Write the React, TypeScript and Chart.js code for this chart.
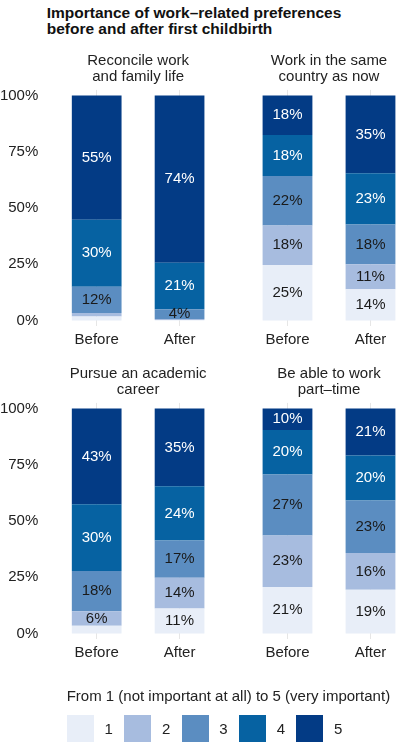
import { useEffect, useRef } from "react";
import { Chart, registerables } from "chart.js";

Chart.register(...registerables);

const FONT = "'Liberation Sans', Arial, sans-serif";
Chart.defaults.font.family = FONT;

// data, share of answers per importance level (1..5), in %
const categories = ["Before", "After"];
const levels = ["1", "2", "3", "4", "5"];
const yTicks = [0, 25, 50, 75, 100];

const reconcileTitle = ["Reconcile work", "and family life"];
const reconcileBefore = [1.7, 1.6, 11.6, 29.9, 55.2];
const reconcileAfter = [0.2, 0.4, 4.4, 20.6, 74.4];

const countryTitle = ["Work in the same", "country as now"];
const countryBefore = [24.6, 17.6, 22.0, 18.2, 17.6];
const countryAfter = [13.8, 11.2, 17.6, 22.8, 34.6];

const academicTitle = ["Pursue an academic", "career"];
const academicBefore = [3.4, 6.4, 17.9, 29.7, 42.6];
const academicAfter = [11.1, 13.6, 16.6, 24.1, 34.6];

const partTimeTitle = ["Be able to work", "part–time"];
const partTimeBefore = [20.6, 22.9, 27.2, 19.7, 9.6];
const partTimeAfter = [19.4, 16.3, 23.4, 20.0, 20.9];

const levelColors = ["#e8eef8", "#a7bcdf", "#5b8dc1", "#0662a2", "#033b85"];
const labelColors = ["#1a1a1a", "#1a1a1a", "#1a1a1a", "#ffffff", "#ffffff"];
const TEXT = "#222222";

// draws the rounded % inside each segment
const barLabels = {
  id: "barLabels",
  afterDatasetsDraw(chart: Chart) {
    const { ctx } = chart;
    ctx.save();
    ctx.font = `15px ${FONT}`;
    ctx.textAlign = "center";
    ctx.textBaseline = "middle";
    chart.data.datasets.forEach((ds, di) => {
      const meta = chart.getDatasetMeta(di);
      meta.data.forEach((bar, i) => {
        const v = Number(ds.data[i]);
        if (v < 3.5) return;
        const { x, y, base } = bar.getProps(["x", "y", "base"], true) as any;
        ctx.fillStyle = labelColors[di];
        ctx.fillText(`${Math.round(v)}%`, x, (y + base) / 2);
      });
    });
    ctx.restore();
  },
};

interface PanelProps {
  title: string[];
  before: number[];
  after: number[];
  showY: boolean;
  left: number;
  top: number;
  width: number;
}

function Panel({ title, before, after, showY, left, top, width }: PanelProps) {
  const ref = useRef<HTMLCanvasElement>(null);

  useEffect(() => {
    if (!ref.current) return;
    const chart = new Chart(ref.current, {
      type: "bar",
      data: {
        labels: categories,
        datasets: levels.map((lvl, li) => ({
          label: lvl,
          data: [before[li], after[li]],
          backgroundColor: levelColors[li],
          borderWidth: 0,
          barPercentage: 0.6,
          categoryPercentage: 1,
        })),
      },
      options: {
        responsive: true,
        maintainAspectRatio: false,
        animation: false,
        events: [],
        layout: { padding: 0 },
        plugins: {
          legend: { display: false },
          tooltip: { enabled: false },
          title: {
            display: true,
            text: title,
            fullSize: false,
            color: TEXT,
            font: { size: 15, weight: "normal", lineHeight: 1.05 },
            padding: { top: 13.3, bottom: 5.1 },
          },
        },
        scales: {
          x: {
            stacked: true,
            offset: true,
            grid: { offset: false, color: "#e6e6e6", lineWidth: 1, drawTicks: false },
            border: { display: false },
            ticks: { color: TEXT, font: { size: 15, lineHeight: 1.2 }, padding: 5 },
          },
          y: {
            stacked: true,
            display: showY,
            min: -2.5,
            max: 102.5,
            grid: { display: false, drawTicks: false },
            border: { display: false },
            ticks: {
              color: TEXT,
              font: { size: 15 },
              padding: 17,
              callback: (v: string | number) => `${v}%`,
            },
            afterBuildTicks: (s: any) => {
              s.ticks = yTicks.map((v) => ({ value: v }));
            },
            afterFit: (s: any) => {
              s.width = showY ? 55.25 : 0;
            },
          },
        },
      },
      plugins: [barLabels],
    });
    return () => chart.destroy();
  }, [title, before, after, showY]);

  return (
    <div style={{ position: "absolute", left, top, width, height: 314 }}>
      <canvas ref={ref} />
    </div>
  );
}

export default function App() {
  return (
    <div
      style={{
        position: "absolute",
        left: 0,
        top: 0,
        width: 405,
        height: 747,
        overflow: "hidden",
        background: "#fff",
        fontFamily: FONT,
        color: TEXT,
      }}
    >
      <div
        style={{
          position: "absolute",
          left: 46.7,
          top: 4.6,
          fontSize: 15.5,
          fontWeight: "bold",
          lineHeight: "16px",
          color: "#111",
          whiteSpace: "nowrap",
        }}
      >
        Importance of work–related preferences
        <br />
        before and after first childbirth
      </div>

      <Panel title={reconcileTitle} before={reconcileBefore} after={reconcileAfter} showY left={0} top={40} width={221} />
      <Panel title={countryTitle} before={countryBefore} after={countryAfter} showY={false} left={246} top={40} width={166} />
      <Panel title={academicTitle} before={academicBefore} after={academicAfter} showY left={0} top={353} width={221} />
      <Panel title={partTimeTitle} before={partTimeBefore} after={partTimeAfter} showY={false} left={246} top={353} width={166} />

      <div
        style={{
          position: "absolute",
          left: 66.7,
          top: 687.3,
          fontSize: 15,
          lineHeight: "18px",
          whiteSpace: "nowrap",
        }}
      >
        From 1 (not important at all) to 5 (very important)
      </div>
      {levels.map((lvl, i) => (
        <div key={lvl}>
          <div
            style={{
              position: "absolute",
              left: 66.7 + i * 57.4,
              top: 715,
              width: 27,
              height: 27,
              background: levelColors[i],
            }}
          />
          <div
            style={{
              position: "absolute",
              left: 104.5 + i * 57.4,
              top: 715,
              height: 27,
              lineHeight: "27px",
              fontSize: 15,
            }}
          >
            {lvl}
          </div>
        </div>
      ))}
    </div>
  );
}
